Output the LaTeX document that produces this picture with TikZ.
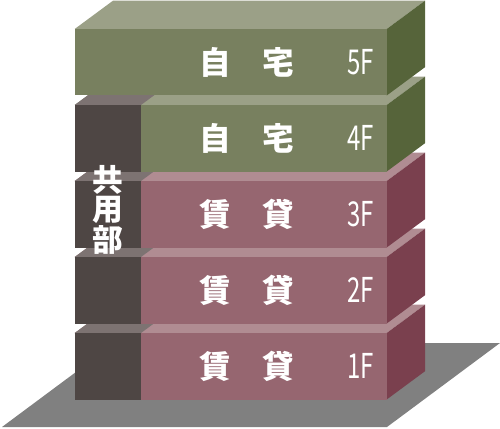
\documentclass[tikz,border=0pt]{standalone}
\usepackage{fontspec}
\usepackage{xcolor}
\newfontfamily\jpfont{Noto Sans CJK JP}
\newfontfamily\flfont[FakeStretch=0.7]{Noto Sans CJK JP}
\definecolor{ownfront}{HTML}{78805F}
\definecolor{owntop}{HTML}{9BA087}
\definecolor{ownside}{HTML}{56643A}
\definecolor{rentfront}{HTML}{966670}
\definecolor{renttop}{HTML}{B08C92}
\definecolor{rentside}{HTML}{7A404E}
\definecolor{commonfront}{HTML}{4E4644}
\definecolor{commontop}{HTML}{7D7372}
\definecolor{groundgray}{HTML}{808080}

\begin{document}
\begin{tikzpicture}[x=0.02cm, y=-0.02cm,
    usetext/.style={font=\jpfont\bfseries\fontsize{18}{18}\selectfont, text=white, inner sep=0pt},
    floortext/.style={font=\flfont\fontsize{19.5}{19.5}\selectfont, text=white, inner sep=0pt}]
        \useasboundingbox (0,0) rectangle (500,429);
        % ground
        \fill[groundgray] (2,427) -- (387,427) -- (500,343) -- (115,343) -- cycle;
        % floors, bottom first
        \foreach \t/\fr/\tp/\sd/\cm in {333/rentfront/renttop/rentside/1, 257/rentfront/renttop/rentside/1,
            181/rentfront/renttop/rentside/1, 105/ownfront/owntop/ownside/1, 29/ownfront/owntop/ownside/0} {
            \fill[\tp] (74.7,\t) -- (386.7,\t) -- ++(38.3,-28.3) -- (113,\t-28.3) -- cycle;
            \fill[\sd] (386.7,\t) -- ++(38.3,-28.3) -- ++(0,66.5) -- (386.7,\t+66.5) -- cycle;
            \fill[\fr] (74.7,\t) rectangle ++(312,66.5);
            \ifnum\cm=1
                \fill[commontop] (74.7,\t) -- (141,\t) -- ++(38.3,-28.3) -- (113,\t-28.3) -- cycle;
                \fill[commonfront] (74.7,\t) rectangle ++(66.3,66.5);
            \fi
        }
        % labels
        \foreach \n/\t/\txt in {1/333/賃\hspace{1em}貸, 2/257/賃\hspace{1em}貸, 3/181/賃\hspace{1em}貸,
            4/105/自\hspace{1em}宅, 5/29/自\hspace{1em}宅} {
            \node[usetext] (use\n) at (247,\t+33) {\txt};
            \node[floortext] (fl\n) at (360.5,\t+33) {\n F};
        }
        \node[usetext, align=center, font=\jpfont\bfseries\fontsize{17.5}{15.2}\selectfont] (common) at (107.5,210) {共\\用\\部};
    \end{tikzpicture}
\end{document}
